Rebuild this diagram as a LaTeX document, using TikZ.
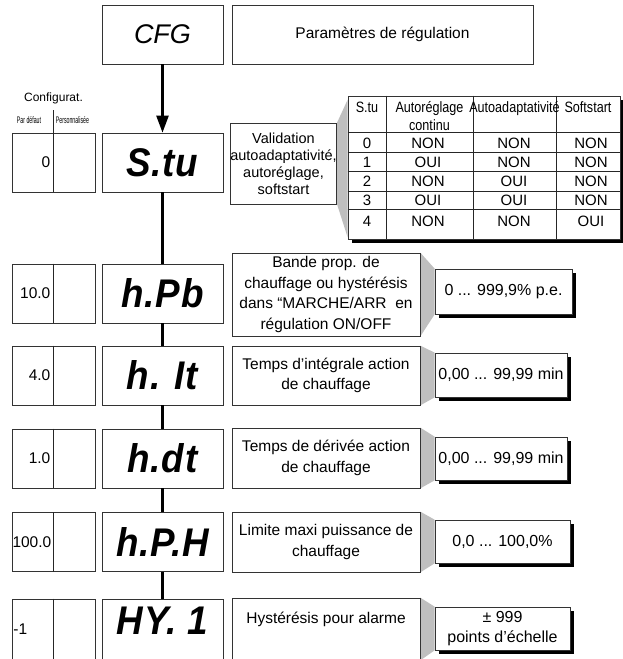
\documentclass[tikz,border=0pt]{standalone}
\usepackage{fontspec}
\setmainfont{Liberation Sans}
\newfontfamily\segfont[FakeStretch=0.92,LetterSpace=2]{Liberation Sans}
\newfontfamily\narrowfont[FakeStretch=0.84]{Liberation Sans}
\newfontfamily\tinyfont[FakeStretch=0.55]{Liberation Sans}
\usetikzlibrary{arrows.meta,calc,shadows,backgrounds}

\tikzset{
  boite/.style={draw=black!80,line width=0.7pt,inner sep=0pt,align=center,fill=white},
  segtxt/.style={font=\segfont\bfseries\itshape\fontsize{40}{40}\selectfont},
  affich/.style={boite,segtxt,minimum width=121pt,minimum height=59pt},
  descr/.style={boite,minimum width=188pt,font=\fontsize{15.5}{20.5}\selectfont},
  valeur/.style={boite,minimum height=44pt,font=\fontsize{16}{20}\selectfont,
    drop shadow={shadow xshift=4pt,shadow yshift=-4pt,fill=black,opacity=1}},
  config/.style={boite,minimum width=83pt,minimum height=59pt},
  defaut/.style={font=\fontsize{15.5}{18}\selectfont,inner sep=0pt},
  lien/.style={line width=2.3pt},
  coin/.style={fill=black!25},
  grille/.style={line width=0.7pt,draw=black!85},
  cellule/.style={font=\fontsize{15}{18}\selectfont,inner sep=0pt,anchor=base},
  entete/.style={font=\narrowfont\fontsize{15}{18}\selectfont,inner sep=0pt,anchor=base},
}

\begin{document}
\begin{tikzpicture}[x=1pt,y=-1pt]
  \useasboundingbox (0,0) rectangle (622,659);

  % en-tete
  \node[boite,minimum width=121pt,minimum height=59pt,font=\itshape\fontsize{27}{27}\selectfont] (cfg) at (162.5,34.5) {CFG};
  \node[boite,minimum width=301pt,minimum height=59pt,font=\fontsize{15.5}{18}\selectfont] (titre) at (382.5,34.5) {Paramètres de régulation};

  % afficheurs et cases de configuration
  \foreach \nom/\y/\txt in {stu/162.5/S.tu,hpb/293.5/h.Pb,hit/375.5/h. It,hdt/458.5/h.dt,hph/542/h.P.H}{
    \node[affich] (a-\nom) at (162.5,\y) {\txt};
    \node[config] (c-\nom) at (53.5,\y) {};
    \draw[grille] (c-\nom.north) -- (c-\nom.south);
  }
  \node[affich,minimum height=61pt] (a-hyi) at (162.5,629.5) {};
  \node[segtxt,inner sep=0pt] (t-hyi) at ($(a-hyi.north)+(0,22)$) {HY. 1};
  \node[config,minimum height=61pt] (c-hyi) at (53.5,629.5) {};
  \draw[grille] (c-hyi.north) -- (c-hyi.south);

  \draw[lien,-{Triangle[length=17pt,width=12pt]}] (cfg) -- (a-stu);
  \foreach \a/\b in {stu/hpb,hpb/hit,hit/hdt,hdt/hph,hph/hyi}
    \draw[lien] (a-\a) -- (a-\b);

  % valeurs par defaut
  \node[font=\fontsize{12}{14}\selectfont] (cfgtitre) at (53.5,98) {Configurat.};
  \node[font=\tinyfont\fontsize{9.5}{10}\selectfont] (pardef) at (29,120) {Par défaut};
  \node[font=\tinyfont\fontsize{9.5}{10}\selectfont] (perso) at (72.5,120) {Personnalisée};
  \coordinate (sep) at (53.5,110);
  \draw[grille] (sep) -- (c-stu.north);
  \node[defaut,anchor=east] (v-stu) at ($(c-stu.center)+(-3,0)$) {0};
  \node[defaut,anchor=east] (v-hpb) at ($(c-hpb.center)+(-3,0)$) {10.0};
  \node[defaut,anchor=east] (v-hit) at ($(c-hit.center)+(-3,0)$) {4.0};
  \node[defaut,anchor=east] (v-hdt) at ($(c-hdt.center)+(-3,0)$) {1.0};
  \node[defaut,anchor=east] (v-hph) at ($(c-hph.center)+(-2,0)$) {100.0};
  \node[defaut,anchor=west] (v-hyi) at ($(c-hyi.west)+(1.5,0)$) {-1};

  % descriptions
  \node[descr,minimum width=105pt,minimum height=81pt,font=\fontsize{14.5}{17}\selectfont] (d-stu) at (283.5,163.5) {Validation\\autoadaptativité,\\autoréglage,\\softstart};
  \node[descr,minimum height=83pt] (d-hpb) at (326,294.5) {Bande prop. de\\chauffage ou hystérésis\\dans “MARCHE/ARR\ \ en\\régulation ON/OFF};
  \node[descr,minimum height=59pt] (d-hit) at (326,375.5) {Temps d’intégrale action\\de chauffage};
  \node[descr,minimum height=60pt] (d-hdt) at (326,458) {Temps de dérivée action\\de chauffage};
  \node[descr,minimum height=60pt] (d-hph) at (326,542) {Limite maxi puissance de\\chauffage};
  \node[descr,minimum height=62pt] (d-hyi) at (326,629) {};
  \node[font=\fontsize{15.5}{20.5}\selectfont,inner sep=0pt] (t-dhyi) at ($(d-hyi.north)+(0,22)$) {Hystérésis pour alarme};

  % plages
  \node[valeur,minimum width=137pt,minimum height=45pt] (p-hpb) at (503.5,291.5) {0 ... 999,9\% p.e.};
  \node[valeur,minimum width=132pt] (p-hit) at (501,375) {0,00 ... 99,99 min};
  \node[valeur,minimum width=132pt,minimum height=43pt] (p-hdt) at (501,458.5) {0,00 ... 99,99 min};
  \node[valeur,minimum width=135pt,minimum height=43pt] (p-hph) at (502.5,541.5) {0,0 ... 100,0\%};
  \node[valeur,minimum width=135pt,minimum height=43pt] (p-hyi) at (502.5,628.5) {± 999\\points d’échelle};

  % tableau S.tu
  \node[boite,minimum width=272pt,minimum height=143pt,
    drop shadow={shadow xshift=4pt,shadow yshift=-4pt,fill=black,opacity=1}] (tab) at (484,167.5) {};
  \foreach \x in {386,473,556}
    \draw[grille] (\x,0 |- tab.north) -- (\x,0 |- tab.south);
  \foreach \y in {132,152,171,191,209}
    \draw[grille] (tab.west |- 0,\y) -- (tab.east |- 0,\y);
  \node[entete] (h-stu) at (367,112.5) {S.tu};
  \node[entete] (h-regl) at (429.5,112.5) {Autoréglage};
  \node[entete] (h-cont) at (429.5,130) {continu};
  \node[entete] (h-adapt) at (514.5,112.5) {Autoadaptativité};
  \node[entete] (h-soft) at (588,112.5) {Softstart};
  \foreach \y/\s/\r/\a/\f in {148.5/0/NON/NON/NON,167.5/1/OUI/NON/NON,186.5/2/NON/OUI/NON,205.5/3/OUI/OUI/NON,226.5/4/NON/NON/OUI}{
    \node[cellule] (s-\s) at (367,\y) {\s};
    \node[cellule] (r-\s) at (428,\y) {\r};
    \node[cellule] (ad-\s) at (514,\y) {\a};
    \node[cellule] (f-\s) at (591,\y) {\f};
  }

  % raccords gris
  \begin{scope}[on background layer]
    \fill[coin] (d-stu.north east) -- ($(tab.north west)+(0,4)$) -- ($(tab.south west)+(0,-2)$) -- (d-stu.south east) -- cycle;
    \foreach \n in {hpb,hit,hdt,hph,hyi}
      \fill[coin] (d-\n.north east) -- (p-\n.north west) -- (p-\n.south west) -- (d-\n.south east) -- cycle;
  \end{scope}
\end{tikzpicture}
\end{document}
